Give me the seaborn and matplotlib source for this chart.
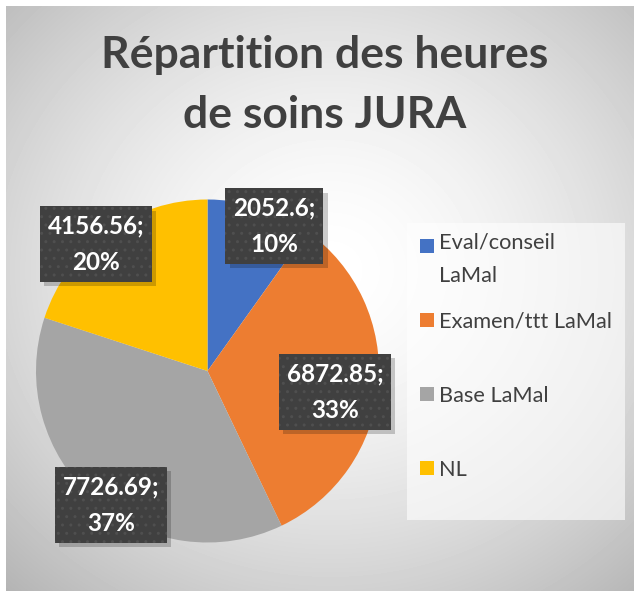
import textwrap
import numpy as np
import matplotlib
matplotlib.use("Agg")
import matplotlib.pyplot as plt
import matplotlib.patheffects as pe
from matplotlib.patches import Rectangle
import seaborn as sns

# data
title = "Répartition des heures\nde soins JURA"
categories = ["Eval/conseil LaMal", "Examen/ttt LaMal", "Base LaMal", "NL"]
hours = [2052.6, 6872.85, 7726.69, 4156.56]
colors = ["#4472C4", "#ED7D31", "#A5A5A5", "#FFC000"]

# where the data labels sit (pie units, radius 1)
label_pos = [(0.39, 0.845), (0.743, -0.122), (-0.563, -0.781), (-0.65, 0.74)]

W, H = 634, 591

sns.set_style("white")
plt.rcParams['font.family'] = ['Lato', 'DejaVu Sans']


def fx(x):
    return x / W


def fy(y):
    return 1 - y / H


class PlainShadow(pe.SimplePatchShadow):
    # same shadow, but without the dotted hatch of the box
    def draw_path(self, renderer, gc, tpath, affine, rgbFace):
        gc0 = renderer.new_gc()
        gc0.copy_properties(gc)
        gc0.set_hatch(None)
        super().draw_path(renderer, gc0, tpath, affine, rgbFace)
        gc0.restore()


fig = plt.figure(figsize=(W / 100, H / 100), dpi=100)

# radial grey gradient behind the chart, like the excel style
bg = fig.add_axes([0, 0, 1, 1])
xx, yy = np.meshgrid(np.arange(6, W), np.arange(6, H))
r = np.hypot((xx - 330) / 350.0, (yy - 270) / 320.0)
shade = np.clip(1 - 0.18 * r ** 1.6, 0, 1)
bg.imshow(shade, cmap='gray', vmin=0, vmax=1, extent=(6, W, H, 6), aspect='auto')
bg.set_xlim(0, W)
bg.set_ylim(H, 0)
bg.axis('off')

# pie
ax = fig.add_axes([fx(36), fy(371 + 171.5), 343 / W, 343 / H])
wedges, _ = ax.pie(hours, colors=colors, startangle=90, counterclock=False,
                   radius=1, wedgeprops=dict(linewidth=0))
ax.set_xlim(-1, 1)
ax.set_ylim(-1, 1)

total = sum(hours)
for v, (x, y) in zip(hours, label_pos):
    t = ax.text(x, y, f"{v:g};\n{v / total:.0%}", ha='center', va='center',
                color='white', fontsize=17.5, fontweight='bold', linespacing=1.72,
                bbox=dict(boxstyle='square,pad=0.32', fc='#404040', ec='#4f4f4f',
                          lw=0, hatch='..'))
    t.get_bbox_patch().set_path_effects([
        PlainShadow(offset=(3, -3), shadow_rgbFace='k', alpha=0.2),
        pe.Normal()])

# legend box on the right
fig.add_artist(Rectangle((fx(407), fy(520)), 218 / W, 297 / H, transform=fig.transFigure,
                         fc='white', alpha=0.6, lw=0))
for i, (name, c) in enumerate(zip(categories, colors)):
    yc = 246 + 74 * i
    fig.add_artist(Rectangle((fx(420), fy(yc + 7)), 14 / W, 14 / H,
                             transform=fig.transFigure, fc=c, lw=0))
    txt = textwrap.fill(name, 16)
    nl = txt.count("\n")
    # baseline of the last line
    fig.text(fx(439), fy(yc + 7.5 + 29 * nl), txt, ha='left', va='baseline',
             fontsize=15.7, color='#404040', linespacing=1.9)

fig.text(fx(325), fy(128), title, ha='center', va='baseline', fontsize=32,
         fontweight='bold', color='#404040', linespacing=1.6)

fig.savefig("out.png", dpi=100)
